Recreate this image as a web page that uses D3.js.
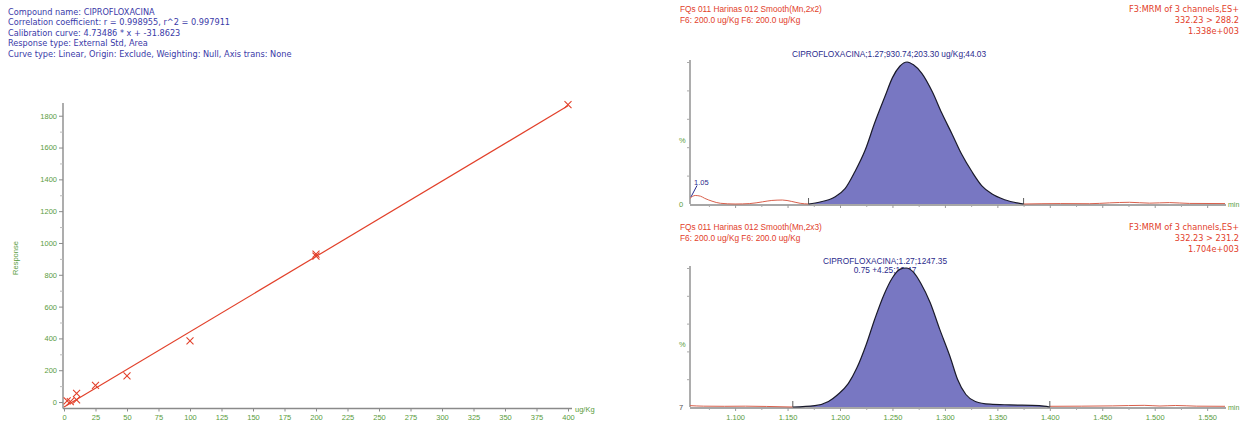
<!DOCTYPE html>
<html><head><meta charset="utf-8">
<script src="https://cdn.jsdelivr.net/npm/d3@7"></script>
<style>
body{margin:0;background:#fff;overflow:hidden}
svg text{font-family:"Liberation Sans",Arial,sans-serif}
svg text.wide{font-family:"DejaVu Sans",Verdana,sans-serif}
</style>
</head><body>
<svg id="c" width="1242" height="425"></svg>
<script>
// ---------- Calibration panel data ----------
const headerLines = [
  "Compound name: CIPROFLOXACINA",
  "Correlation coefficient: r = 0.998955, r^2 = 0.997911",
  "Calibration curve: 4.73486 * x + -31.8623",
  "Response type: External Std, Area",
  "Curve type: Linear, Origin: Exclude, Weighting: Null, Axis trans: None"
];
const calConc = [2.5, 5, 10, 10, 25, 50, 100, 200, 200, 400];
const calResp = [8, 2, 14, 55, 105, 165, 385, 918, 930, 1870];
const calLineX = [0, 400];
const calSlope = 4.73486;
const calIntercept = -31.8623;
const calXTicks = [0, 25, 50, 75, 100, 125, 150, 175, 200, 225, 250, 275, 300, 325, 350, 375, 400];
const calYTicks = [0, 200, 400, 600, 800, 1000, 1200, 1400, 1600, 1800];
const calYMinor = [100, 300, 500, 700, 900, 1100, 1300, 1500, 1700];

// ---------- Chromatogram data ----------
const topHeaderLeft = ["FQs 011 Harinas 012 Smooth(Mn,2x2)", "F6: 200.0 ug/Kg F6: 200.0 ug/Kg"];
const topHeaderRight = ["F3:MRM of 3 channels,ES+", "332.23 > 288.2", "1.338e+003"];
const topPeakLabel = ["CIPROFLOXACINA;1.27;930.74;203.30 ug/Kg;44.03"];
const botHeaderLeft = ["FQs 011 Harinas 012 Smooth(Mn,2x3)", "F6: 200.0 ug/Kg F6: 200.0 ug/Kg"];
const botHeaderRight = ["F3:MRM of 3 channels,ES+", "332.23 > 231.2", "1.704e+003"];
const botPeakLabel = ["CIPROFLOXACINA;1.27;1247.35", "0.75 +4.25;16.47"];

const rtTicks = [1.100, 1.150, 1.200, 1.250, 1.300, 1.350, 1.400, 1.450, 1.500, 1.550];
const rtMinor = [1.075, 1.125, 1.175, 1.225, 1.275, 1.325, 1.375, 1.425, 1.475, 1.525];

const topPeakRT  = [1.170,1.181,1.195,1.205,1.214,1.224,1.233,1.243,1.250,1.257,1.264,1.270,1.278,1.288,1.297,1.307,1.316,1.326,1.335,1.345,1.357,1.375];
const topPeakPct = [0,    1.4,  5,    11,   22.5, 38,   57,   76,   89,   97,   100,  98,   92,   79,   64,   49,   35,   22.5, 13,   7,    3,    0];
const topNoiseRT1  = [1.057,1.062,1.067,1.071,1.078,1.086,1.100,1.114,1.126,1.135,1.145,1.154,1.162,1.170];
const topNoisePct1 = [4,    6,    5.5,  4,    2,    0.5,  0,    0.3,  1.5,  2.5,  2.8,  1.8,  0.5,  0];
const topNoiseRT2  = [1.375,1.410,1.438,1.457,1.476,1.495,1.514,1.533,1.567];
const topNoisePct2 = [0,    0.3,  0.2,  0.8,  1.2,  0.6,  1.0,  0.4,  0.3];

const botPeakRT  = [1.155,1.176,1.189,1.198,1.208,1.216,1.225,1.233,1.242,1.250,1.257,1.263,1.270,1.277,1.286,1.295,1.305,1.312,1.320,1.329,1.343,1.362,1.390,1.400];
const botPeakPct = [0,    1,    4,    9,    17,   28,   45,   63,   81,   93,   99,   100,  97,   89,   75,   56,   36,   20,   9,    4,    2,    1.5,  1,    0];
const botNoiseRT1  = [1.057,1.070,1.090,1.110,1.130,1.155];
const botNoisePct1 = [1,    0.6,  0.5,  0.6,  0.4,  0];
const botNoiseRT2  = [1.400,1.430,1.460,1.490,1.505,1.520,1.540,1.567];
const botNoisePct2 = [0.5,  0.6,  0.8,  1.2,  0.7,  1.1,  0.6,  0.5];

// ---------- Drawing ----------
const svg = d3.select("#c");
svg.append("rect").attr("width",1242).attr("height",425).attr("fill","#fff");

const blue = "#3a3aa8", green = "#5a9c3c", red = "#e2402a", axisCol = "#8a8a8a";
const fs = 8.3;

svg.append("g").selectAll("text").data(headerLines).join("text").attr("class","wide")
  .attr("x", 8).attr("y", (d,i)=>15 + i*10.4)
  .attr("font-size", 8.2).attr("fill", blue).text(d=>d);

const cx = d3.scaleLinear().domain([0,400]).range([64,568]);
const cy = d3.scaleLinear().domain([-40,1880]).range([408.4,103]);

const gL = svg.append("g");
gL.append("line").attr("x1",63).attr("x2",63).attr("y1",103).attr("y2",408.5).attr("stroke",axisCol).attr("stroke-width",1.4);
gL.append("line").attr("x1",63).attr("x2",572).attr("y1",408.5).attr("y2",408.5).attr("stroke",axisCol).attr("stroke-width",1.4);
const yAx = d3.axisLeft(cy).tickValues(calYTicks).tickSize(4).tickPadding(2).tickFormat(d3.format("d"));
const yg = gL.append("g").attr("transform","translate(63,0)").call(yAx);
yg.select(".domain").remove();
yg.selectAll("line").attr("stroke",axisCol);
yg.selectAll("text").attr("fill",green).attr("font-size",7.5);
const yMin = d3.axisLeft(cy).tickValues(calYMinor).tickSize(3).tickFormat("");
const ymg = gL.append("g").attr("transform","translate(63,0)").call(yMin);
ymg.select(".domain").remove(); ymg.selectAll("line").attr("stroke","#bbb");
const xAx = d3.axisBottom(cx).tickValues(calXTicks).tickSize(3).tickPadding(3).tickFormat(d3.format("d"));
const xg = gL.append("g").attr("transform","translate(0,408.5)").call(xAx);
xg.select(".domain").remove();
xg.selectAll("line").attr("stroke",axisCol);
xg.selectAll("text").attr("fill",green).attr("font-size",7.5);
gL.append("text").attr("x",575).attr("y",412).attr("font-size",7.5).attr("fill",green).text("ug/Kg");
gL.append("text").attr("transform","translate(18,258) rotate(-90)").attr("text-anchor","middle")
  .attr("font-size",7.5).attr("fill",green).text("Response");

gL.append("path").datum(calLineX)
  .attr("d", d3.line().x(d=>cx(d)).y(d=>cy(calSlope*d + calIntercept)))
  .attr("stroke",red).attr("stroke-width",1.2).attr("fill","none");
const ms = 3.5;
gL.append("g").selectAll("path").data(calConc.map((c,i)=>[c,calResp[i]])).join("path")
  .attr("d", d=>{const x=cx(d[0]), y=cy(d[1]);
    return `M${x-ms},${y-ms}L${x+ms},${y+ms}M${x-ms},${y+ms}L${x+ms},${y-ms}`;})
  .attr("stroke",red).attr("stroke-width",1.1).attr("fill","none");

// ---------- Chromatograms ----------
const rx = d3.scaleLinear().domain([1.057,1.567]).range([690,1225]);

function chrom(opts){
  const g = svg.append("g");
  const ys = d3.scaleLinear().domain([0,100]).range([opts.base, opts.top]);
  g.selectAll("text.hl").data(opts.hl).join("text").attr("class","hl")
    .attr("x",680).attr("y",(d,i)=>opts.hy + i*11).attr("font-size",fs).attr("fill",red).text(d=>d);
  g.selectAll("text.hr").data(opts.hr).join("text").attr("class","hr wide")
    .attr("x",1239).attr("y",(d,i)=>opts.hy + i*11).attr("text-anchor","end")
    .attr("font-size",8.2).attr("fill",red).text(d=>d);
  g.selectAll("text.pl").data(opts.pl).join("text").attr("class","pl")
    .attr("x",opts.plx).attr("y",(d,i)=>opts.ply + i*9).attr("text-anchor","middle")
    .attr("font-size",fs).attr("fill","#2b2b8c").text(d=>d);
  g.append("line").attr("x1",690).attr("x2",690).attr("y1",opts.top-2).attr("y2",opts.base).attr("stroke",axisCol).attr("stroke-width",1.4);
  const ya = d3.axisLeft(ys).tickValues([20,40,60,80,100]).tickSize(3).tickFormat("");
  const yag = g.append("g").attr("transform","translate(690,0)").call(ya);
  yag.select(".domain").remove(); yag.selectAll("line").attr("stroke","#aaa");
  g.append("text").attr("x",679).attr("y",ys(45)+3).attr("font-size",7.5).attr("fill",green).text("%");
  g.append("text").attr("x",679).attr("y",opts.base+3).attr("font-size",7.5).attr("fill",opts.zeroCol).text(opts.zero);
  g.append("line").attr("x1",690).attr("x2",1226).attr("y1",opts.base+1).attr("y2",opts.base+1).attr("stroke",axisCol).attr("stroke-width",1.4);
  const xa = d3.axisBottom(rx).tickValues(rtTicks).tickSize(3).tickPadding(4)
     .tickFormat(opts.labels ? d3.format(".3f") : "");
  const xag = g.append("g").attr("transform",`translate(0,${opts.base+1})`).call(xa);
  xag.select(".domain").remove(); xag.selectAll("line").attr("stroke","#999");
  xag.selectAll("text").attr("fill",green).attr("font-size",7.5);
  const xm = d3.axisBottom(rx).tickValues(rtMinor).tickSize(2).tickFormat("");
  const xmg = g.append("g").attr("transform",`translate(0,${opts.base+1})`).call(xm);
  xmg.select(".domain").remove(); xmg.selectAll("line").attr("stroke","#aaa");
  g.append("text").attr("x",1228).attr("y",opts.base+3).attr("font-size",7).attr("fill",green).text("min");
  const ln = d3.line().x(d=>rx(d[0])).y(d=>ys(d[1])).curve(d3.curveMonotoneX);
  [opts.n1, opts.n2].forEach(n=>{
    g.append("path").datum(n[0].map((t,i)=>[t,n[1][i]])).attr("d",ln)
      .attr("stroke","#d9604c").attr("stroke-width",1).attr("fill","none");
  });
  const pk = opts.pr.map((t,i)=>[t,opts.pp[i]]);
  const ar = d3.area().x(d=>rx(d[0])).y0(ys(0)).y1(d=>ys(d[1])).curve(d3.curveMonotoneX);
  g.append("path").datum(pk).attr("d",ar).attr("fill","#7877c2");
  g.append("path").datum(pk).attr("d",ln).attr("stroke","#1a1a2a").attr("stroke-width",1.2).attr("fill","none");
  [opts.pr[0], opts.pr[opts.pr.length-1]].forEach(t=>{
    g.append("line").attr("x1",rx(t)).attr("x2",rx(t)).attr("y1",ys(0)).attr("y2",ys(0)-6)
      .attr("stroke","#333").attr("stroke-width",0.8);
  });
  return {g, ys};
}

const chromTop = chrom({base:204, top:62, hy:12, hl:topHeaderLeft, hr:topHeaderRight,
  pl:topPeakLabel, plx:889, ply:57, zero:"0", zeroCol:green, labels:false,
  n1:[topNoiseRT1,topNoisePct1], n2:[topNoiseRT2,topNoisePct2], pr:topPeakRT, pp:topPeakPct});
chromTop.g.append("line").attr("x1",691).attr("x2",697).attr("y1",chromTop.ys(5)).attr("y2",chromTop.ys(13)).attr("stroke","#2b2b8c").attr("stroke-width",1);
chromTop.g.append("text").attr("x",694).attr("y",chromTop.ys(13)-1).attr("font-size",7.5).attr("fill","#2b2b8c").text("1.05");

const chromBot = chrom({base:407, top:268, hy:230, hl:botHeaderLeft, hr:botHeaderRight,
  pl:botPeakLabel, plx:885, ply:264, zero:"7", zeroCol:"#555", labels:true,
  n1:[botNoiseRT1,botNoisePct1], n2:[botNoiseRT2,botNoisePct2], pr:botPeakRT, pp:botPeakPct});
</script>
</body></html>
